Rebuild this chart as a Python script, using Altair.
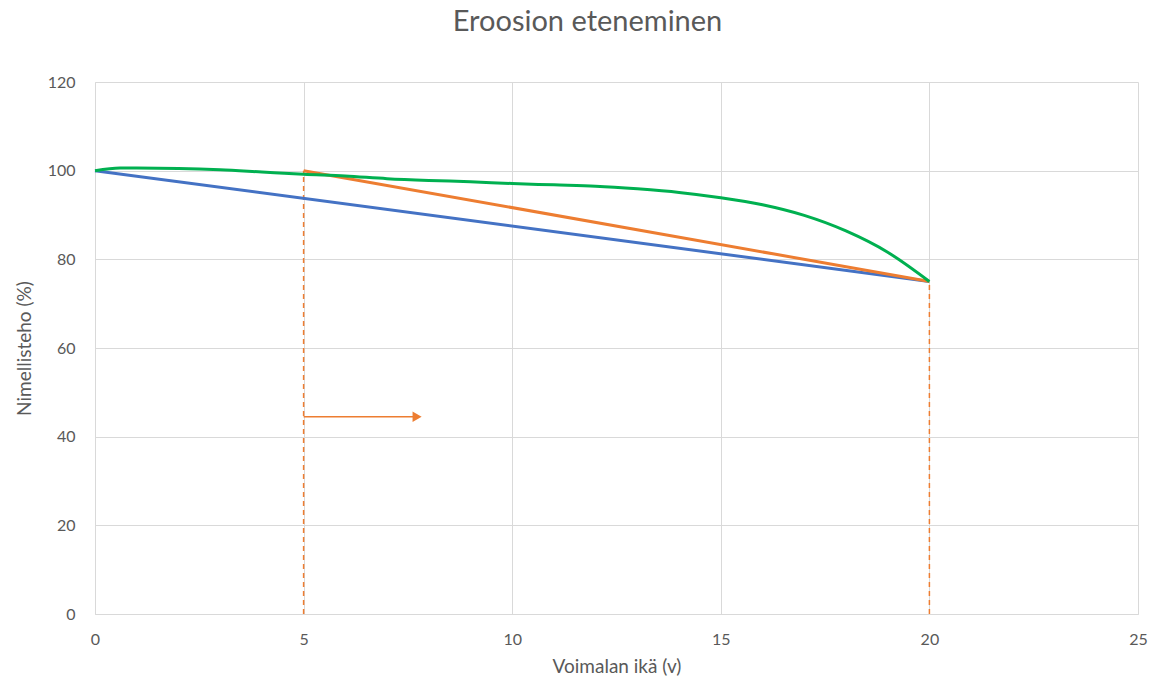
import altair as alt
import pandas as pd

# Series
blue_x = [0, 20]
blue_y = [100, 75]

orange_x = [5, 20]
orange_y = [100, 75]

green_x = [0, 0.6, 1, 2, 3, 4, 5, 6, 7, 8, 9, 10, 11, 12, 13, 14, 15, 16, 17, 18, 19, 20]
green_y = [100, 100.6, 100.6, 100.5, 100.2, 99.7, 99.2, 98.8, 98.2, 97.8, 97.5, 97.1,
           96.8, 96.5, 95.9, 95.1, 93.9, 92.3, 89.9, 86.4, 81.6, 75]

# dashed vertical guides (x, top y)
guide_x = [5, 20]
guide_top = [100, 75]

# arrow
arrow_start_x = 5
arrow_end_x = 7.65
arrow_head_x = 7.72
arrow_y = 44.5

x_ticks = [0, 5, 10, 15, 20, 25]
y_ticks = [0, 20, 40, 60, 80, 100, 120]

BLUE = "#4472C4"
ORANGE = "#ED7D31"
GREEN = "#00B050"
FONT = "Lato"
TXT = "#595959"

xs = alt.Scale(domain=[0, 25], nice=False)
ys = alt.Scale(domain=[0, 120], nice=False)

x_axis = alt.Axis(values=x_ticks, title="Voimalan ikä (v)", grid=True, ticks=False,
                  labelFlush=False, labelPadding=17, titlePadding=10)
y_axis = alt.Axis(values=y_ticks, title="Nimellisteho (%)", grid=True, ticks=False,
                  labelFlush=False, labelPadding=20, titlePadding=13)

df_blue = pd.DataFrame({"x": blue_x, "y": blue_y})
df_orange = pd.DataFrame({"x": orange_x, "y": orange_y})
df_green = pd.DataFrame({"x": green_x, "y": green_y})
df_guide = pd.DataFrame({"x": guide_x, "y": [0, 0], "y2": guide_top})
df_arrow = pd.DataFrame({"x": [arrow_start_x], "x2": [arrow_end_x], "y": [arrow_y]})
df_head = pd.DataFrame({"x": [arrow_head_x], "y": [arrow_y]})

base_enc = dict(
    x=alt.X("x:Q", scale=xs, axis=x_axis),
    y=alt.Y("y:Q", scale=ys, axis=y_axis),
)

guides = alt.Chart(df_guide).mark_rule(color=ORANGE, strokeWidth=1.5, strokeDash=[5, 4]).encode(
    x=alt.X("x:Q", scale=xs, axis=x_axis),
    y=alt.Y("y:Q", scale=ys, axis=y_axis),
    y2="y2:Q",
)

blue = alt.Chart(df_blue).mark_line(color=BLUE, strokeWidth=3).encode(**base_enc)
orange = alt.Chart(df_orange).mark_line(color=ORANGE, strokeWidth=3).encode(**base_enc)
green = alt.Chart(df_green).mark_line(color=GREEN, strokeWidth=3, interpolate="monotone").encode(**base_enc)

arrow = alt.Chart(df_arrow).mark_rule(color=ORANGE, strokeWidth=1.5).encode(
    x=alt.X("x:Q", scale=xs, axis=x_axis),
    x2="x2:Q",
    y=alt.Y("y:Q", scale=ys, axis=y_axis),
)
head = alt.Chart(df_head).mark_point(shape="triangle-right", filled=True, color=ORANGE,
                                     size=110, opacity=1).encode(**base_enc)

chart = alt.layer(guides, blue, orange, green, arrow, head).properties(
    width=1043,
    height=532,
    autosize=alt.AutoSizeParams(type="none"),
    padding={"left": 95, "top": 82, "right": 27, "bottom": 66},
    title=alt.TitleParams("Eroosion eteneminen", anchor="middle", dx=-29, offset=37,
                          fontSize=29, font=FONT, color=TXT, fontWeight="normal"),
).configure_view(stroke=None).configure_axis(
    gridColor="#D9D9D9",
    domainColor="#D9D9D9",
    domainWidth=1,
    gridWidth=1,
    labelFont=FONT,
    titleFont=FONT,
    labelColor=TXT,
    titleColor=TXT,
    labelFontSize=16,
    titleFontSize=19,
    titleFontWeight="normal",
)

chart.save("out.html", embed_options={"renderer": "svg", "actions": False})
